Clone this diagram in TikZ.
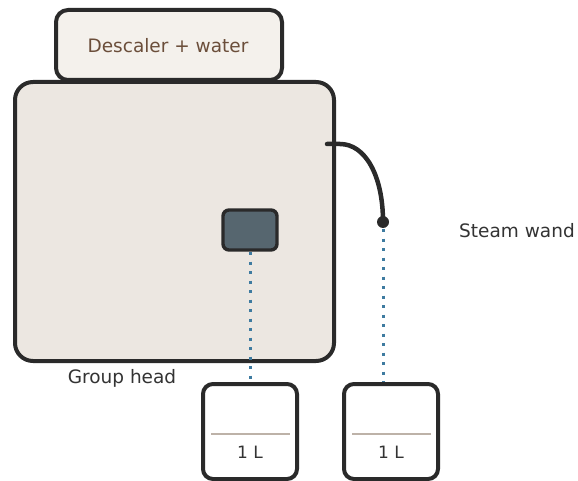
\documentclass[tikz,border=0pt]{standalone}
\usepackage{fontspec}
\setmainfont{DejaVu Sans}
\definecolor{edge}{HTML}{2A2A2A}
\definecolor{tankfill}{HTML}{F4F1EC}
\definecolor{bodyfill}{HTML}{ECE7E1}
\definecolor{headfill}{HTML}{56666F}
\definecolor{flow}{HTML}{3E7BA0}
\definecolor{brownt}{HTML}{6B4E3A}
\definecolor{txt}{HTML}{333333}
\definecolor{level}{HTML}{BDB2A8}
\tikzset{
  box/.style={draw=edge, line width=4pt, rounded corners=#1},
  flowline/.style={draw=flow, line width=3pt, dash pattern=on 3pt off 6.5pt},
  lbl/.style={text=txt, font=\fontsize{18.5}{22}\selectfont, inner sep=0pt},
}
\begin{document}
\begin{tikzpicture}[x=1pt,y=-1pt]
\useasboundingbox (0,0) rectangle (578,481);
% tank
\path[box=12pt, fill=tankfill] (56,10) rectangle (282,80);
\node[lbl, text=brownt] (tank) at (168,45.5) {Descaler + water};
% body
\path[box=18pt, fill=bodyfill] (15,82) rectangle (334,361);
% group head
\path[box=6pt, fill=headfill, line width=3.4pt] (223,210) rectangle (277,250);
\coordinate (gh) at (250,252);
% steam wand
\coordinate (ws) at (327,144);
\coordinate (we) at (383,222);
\coordinate (wb) at (383,229);
% cups
\path[box=10pt] (203,384) -- (203,479) -- (297,479) -- (297,384) -- cycle;
\path[box=10pt] (344,384) -- (344,479) -- (438,479) -- (438,384) -- cycle;
\coordinate (c1) at (250,382);
\coordinate (c2) at (383,382);
\draw[level, line width=2.8pt] (211,434) -- (290,434);
\draw[level, line width=2.8pt] (352,434) -- (431,434);
\node[text=txt, font=\fontsize{17}{20}\selectfont, inner sep=0pt] (l1) at (250,452.5) {1 L};
\node[text=txt, font=\fontsize{17}{20}\selectfont, inner sep=0pt] (l2) at (391,452.5) {1 L};
% flows
\draw[flowline] (gh) -- (c1);
\draw[flowline] (wb) -- (c2);
\draw[edge, line width=4.5pt, line cap=round] (ws) -- (340,144) .. controls (365,144) and (383,175) .. (we);
\fill[edge] (we) circle (6pt);
% labels
\node[lbl] (sw) at (517,231) {Steam wand};
\node[lbl] (gl) at (122,378) {Group head};
\end{tikzpicture}
\end{document}
